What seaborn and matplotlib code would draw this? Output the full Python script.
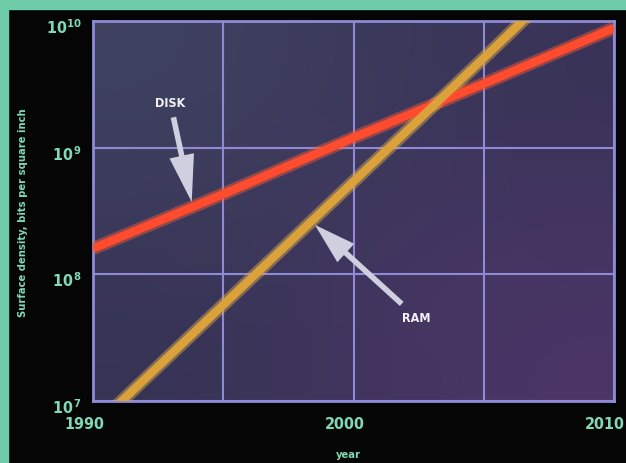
import numpy as np
import pandas as pd
import matplotlib
matplotlib.use("Agg")
import matplotlib.pyplot as plt
import matplotlib.transforms as mtransforms
from matplotlib.patches import Rectangle
from matplotlib.ticker import FixedLocator, NullLocator
import seaborn as sns

# data
years = [1990, 1995, 2000, 2005, 2010]
disk_density = [1.6e8, 4.3e8, 1.2e9, 3.2e9, 8.8e9]
ram_density = [6.1e6, 5.75e7, 5.4e8, 5.1e9, 4.9e10]
series_names = ["DISK", "RAM"]
x_tick_years = [1990, 2000, 2010]
x_grid_years = [1995, 2005]
y_ticks = [1e7, 1e8, 1e9, 1e10]
y_tick_labels = [r"$\mathbf{10^{\,7}}$", r"$\mathbf{10^{\,8}}$",
                 r"$\mathbf{10^{\,9}}$", r"$\mathbf{10^{10}}$"]

df = pd.DataFrame({
    "year": years * 2,
    "density": disk_density + ram_density,
    "kind": [series_names[0]] * len(years) + [series_names[1]] * len(years),
})

green = "#6fcca8"
text_green = "#7fd8b6"
grid_col = "#8e8ad6"
line_cols = {"DISK": "#ff4b2e", "RAM": "#dba23c"}
glow_cols = {"DISK": "#ff5a34", "RAM": "#e0b04a"}

sns.set_style("dark")
plt.rcParams["font.family"] = ["DejaVu Sans"]
plt.rcParams["font.stretch"] = "condensed"
plt.rcParams["mathtext.fontset"] = "dejavusans"

fig = plt.figure(figsize=(6.26, 4.64), dpi=100, facecolor="#050505")
ax = fig.add_axes([93 / 626, 1 - 402 / 464, 521 / 626, 380 / 464])

# gradient backdrop of the plot area
grad = np.array([[[0.25, 0.26, 0.38], [0.22, 0.20, 0.34]],
                 [[0.21, 0.20, 0.33], [0.30, 0.21, 0.41]]])
ax.imshow(grad, extent=[0, 1, 0, 1], transform=ax.transAxes,
          aspect="auto", interpolation="bicubic", zorder=0)

sns.lineplot(data=df, x="year", y="density", hue="kind", hue_order=series_names,
             palette=glow_cols, lw=9.5, alpha=0.45, legend=False, ax=ax,
             solid_capstyle="butt", zorder=3)
sns.lineplot(data=df, x="year", y="density", hue="kind", hue_order=series_names,
             palette=line_cols, lw=6, legend=False, ax=ax,
             solid_capstyle="butt", zorder=4)

ax.set_yscale("log")
ax.set_xlim(1990, 2010)
ax.set_ylim(1e7, 1e10)

ax.xaxis.set_major_locator(FixedLocator(x_tick_years))
ax.xaxis.set_minor_locator(FixedLocator(x_grid_years))
ax.yaxis.set_major_locator(FixedLocator(y_ticks))
ax.yaxis.set_minor_locator(NullLocator())
ax.set_xticklabels([str(y) for y in x_tick_years])
ax.set_yticklabels(y_tick_labels)

ax.grid(True, which="both", color=grid_col, lw=1.5, zorder=1)
ax.set_axisbelow(True)
for s in ax.spines.values():
    s.set_visible(True)
    s.set_color(grid_col)
    s.set_linewidth(2)

ax.tick_params(axis="both", which="both", length=0)
ax.tick_params(axis="x", pad=11, labelsize=11.5, labelcolor=text_green)
ax.tick_params(axis="y", pad=8, labelsize=11.5, labelcolor=text_green)
for lab in ax.get_xticklabels():
    lab.set_fontweight("bold")
    lab.set_fontstretch("condensed")
    lab.set_transform(lab.get_transform() +
                      mtransforms.ScaledTranslation(-9 / 100, 0, fig.dpi_scale_trans))
for lab in ax.get_yticklabels():
    lab.set_transform(lab.get_transform() +
                      mtransforms.ScaledTranslation(0, -4 / 100, fig.dpi_scale_trans))

ax.set_xlabel("year", color=text_green, fontsize=8, fontweight="bold",
              fontstretch="condensed")
ax.xaxis.set_label_coords(0.491, -0.125)
ax.set_ylabel("Surface density, bits per square inch", color=text_green,
              fontsize=8, fontweight="bold", fontstretch="condensed")
ax.yaxis.set_label_coords(-0.125, 0.497)

arrow_col = "#cfcfe0"
ax.annotate("DISK", xy=(1993.79, 10 ** 8.571), xytext=(1992.96, 10 ** 9.36),
            color="#f2f2f6", fontsize=9, fontweight="bold", ha="center", va="center",
            fontstretch="condensed",
            arrowprops=dict(arrowstyle="simple,head_length=3.4,head_width=1.8,tail_width=0.4",
                            fc=arrow_col, ec="none", mutation_scale=10, shrinkA=4, shrinkB=0),
            zorder=6)
ax.annotate("RAM", xy=(1998.52, 10 ** 8.39), xytext=(2002.42, 10 ** 7.66),
            color="#f2f2f6", fontsize=9, fontweight="bold", ha="center", va="center",
            fontstretch="condensed",
            arrowprops=dict(arrowstyle="simple,head_length=3.0,head_width=1.8,tail_width=0.4",
                            fc=arrow_col, ec="none", mutation_scale=10, shrinkA=4, shrinkB=0),
            zorder=6)

# green page border at left and top
fig.patches.append(Rectangle((0, 0), 8 / 626, 1, transform=fig.transFigure,
                             color=green, zorder=-1))
fig.patches.append(Rectangle((0, 1 - 10 / 464), 1, 10 / 464, transform=fig.transFigure,
                             color=green, zorder=-1))

fig.savefig("out.png", dpi=100, facecolor=fig.get_facecolor())
